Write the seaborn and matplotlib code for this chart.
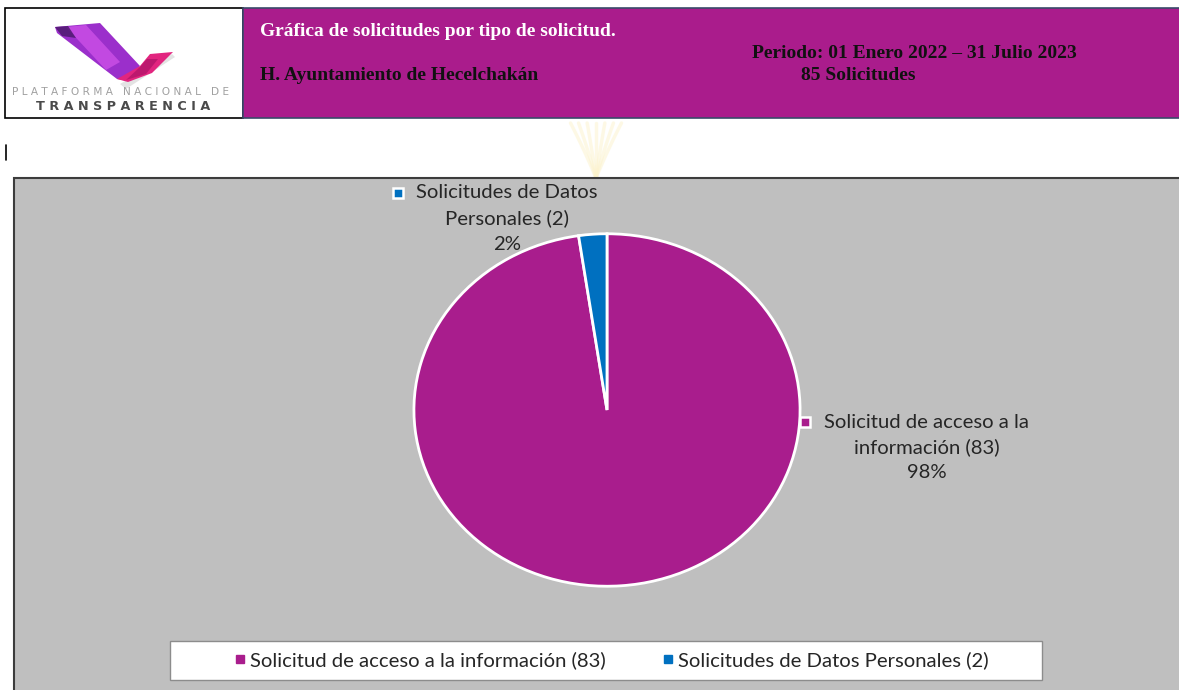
import textwrap
import numpy as np
import matplotlib
matplotlib.use("Agg")
import matplotlib.pyplot as plt
from matplotlib.patches import Rectangle, Polygon
from matplotlib.lines import Line2D
import seaborn as sns

# ---------------- data ----------------
categories = ["Solicitud de acceso a la información", "Solicitudes de Datos Personales"]
values = [83, 2]
title_text = "Gráfica de solicitudes por tipo de solicitud."
entity_text = "H. Ayuntamiento de Hecelchakán"
period_text = "Periodo: 01 Enero 2022 – 31 Julio 2023"
total_text = f"{sum(values)} Solicitudes"

# ---------------- style ----------------
sns.set_style("white")
plt.rcParams["font.family"] = ["Lato", "DejaVu Sans"]
colors = sns.color_palette(["#A91D8D", "#0070C0"])
MAGENTA_BANNER = "#AA1C8C"
GRAY_BG = "#BFBFBF"

W, H = 1179, 690
fig = plt.figure(figsize=(W / 100, H / 100), dpi=100)
fig.patch.set_facecolor("white")

bg = fig.add_axes([0, 0, 1, 1])
bg.set_xlim(0, W)
bg.set_ylim(H, 0)
bg.axis("off")

# ---------------- header: logo box ----------------
bg.add_patch(Rectangle((5, 8), 238, 110, facecolor="white", edgecolor="black", lw=1.2, zorder=1))
# ribbon logo (approximation)
bg.add_patch(Polygon([(120, 84), (172, 54), (175, 57), (126, 89)], closed=True,
                     facecolor="#D8D8D8", edgecolor="none", alpha=0.7, zorder=1.5))
bg.add_patch(Polygon([(55, 27), (100, 23), (140, 66), (128, 81), (117, 79), (57, 33)], closed=True,
                     facecolor="#9B2FCB", edgecolor="none", zorder=2))
bg.add_patch(Polygon([(66, 27), (86, 25), (120, 62), (106, 70)], closed=True,
                     facecolor="#C94EE6", edgecolor="none", alpha=0.85, zorder=3))
bg.add_patch(Polygon([(55, 27), (68, 26), (76, 38), (62, 36)], closed=True,
                     facecolor="#4E1A6E", edgecolor="none", alpha=0.85, zorder=3))
bg.add_patch(Polygon([(117, 79), (140, 66), (150, 54), (173, 52), (152, 73), (128, 82)], closed=True,
                     facecolor="#E2257F", edgecolor="none", zorder=2))
bg.add_patch(Polygon([(126, 80), (140, 67), (147, 59), (158, 59), (146, 74)], closed=True,
                     facecolor="#B3156A", edgecolor="none", alpha=0.8, zorder=3))
bg.text(121, 92, " ".join("PLATAFORMA") + "   " + " ".join("NACIONAL") + "   " + " ".join("DE"),
        ha="center", va="center", fontsize=7.6, color="#A0A0A0", family=["DejaVu Sans"], zorder=4)
bg.text(123, 106, " ".join("TRANSPARENCIA"), ha="center", va="center", fontsize=9.2,
        color="#4A4A4A", fontweight="bold", family=["DejaVu Sans"], zorder=4)

# ---------------- header: banner ----------------
bg.add_patch(Rectangle((243, 8), W - 243 + 5, 110, facecolor=MAGENTA_BANNER, edgecolor="#3A4A6A", lw=1.2, zorder=1))
serif = ["Liberation Serif", "DejaVu Serif"]
hs = 14.0
bg.text(260, 32, title_text, ha="left", va="center", fontsize=hs, fontweight="bold",
        color="white", family=serif, zorder=4)
bg.text(752, 54, period_text, ha="left", va="center", fontsize=hs, fontweight="bold",
        color="#111111", family=serif, zorder=4)
bg.text(260, 76, entity_text, ha="left", va="center", fontsize=hs, fontweight="bold",
        color="#111111", family=serif, zorder=4)
bg.text(858, 76, total_text, ha="center", va="center", fontsize=hs, fontweight="bold",
        color="#111111", family=serif, zorder=4)

# cursor mark
bg.plot([6, 6], [145, 160], color="black", lw=1.2)

# faint watermark
for ang in np.linspace(-30, 30, 7):
    t = np.linspace(0, 1, 20)
    xs = 596 + np.sin(np.deg2rad(ang)) * 45 * t + 6 * np.sin(np.deg2rad(ang)) * t ** 2
    ys = 178 - 55 * t
    bg.plot(xs, ys, color="#FCF3CC", lw=2.5, alpha=0.5, zorder=0.5)

# ---------------- chart area ----------------
bg.add_patch(Rectangle((14, 178), W, H, facecolor=GRAY_BG, edgecolor="#3C3C3C",
                       lw=1.5, zorder=1))

# ---------------- pie ----------------
cx, cy, rx, ry = 607, 410, 195, 178
ax = fig.add_axes([(cx - rx) / W, (H - (cy + ry)) / H, 2 * rx / W, 2 * ry / H])
wedges, _ = ax.pie(values, colors=colors, startangle=90, counterclock=False,
                   wedgeprops=dict(edgecolor="white", linewidth=2))
ax.set_aspect("auto")
ax.set_xlim(-1.01, 1.01)
ax.set_ylim(-1.01, 1.01)
ax.axis("off")
ax.patch.set_alpha(0)

# ---------------- data labels ----------------
total = sum(values)
label_font = 14.6
label_pos = [(927, 422, 805), (507, 193, 398)]  # (text center x, first line y, marker x)
for (cat, val, col, (tx, ty, mx)) in zip(categories, values, colors, label_pos):
    lines = textwrap.wrap(f"{cat} ({val})", width=24) + [f"{round(val / total * 100):.0f}%"]
    for i, line in enumerate(lines):
        bg.text(tx, ty + 25.5 * i, line, ha="center", va="center", fontsize=label_font,
                color="#262626", zorder=5)
    bg.plot([mx], [ty], marker="s", markersize=7.5, color=col, markeredgecolor="white",
            markeredgewidth=1.8, zorder=5)

# ---------------- legend ----------------
bg.add_patch(Rectangle((170, 641), 872, 39, facecolor="white", edgecolor="#8C8C8C", lw=1, zorder=2))
handles = [Line2D([], [], marker="s", linestyle="none", markersize=5.5, color=c) for c in colors]
labels = [f"{c} ({v})" for c, v in zip(categories, values)]
fig.legend(handles, labels, loc="center", bbox_to_anchor=(612 / W, 1 - 660 / H), ncol=2,
           frameon=False, fontsize=14.6, handlelength=0.5, handletextpad=0.25,
           columnspacing=2.8, labelcolor="#262626")

fig.savefig("out.png", dpi=100)
